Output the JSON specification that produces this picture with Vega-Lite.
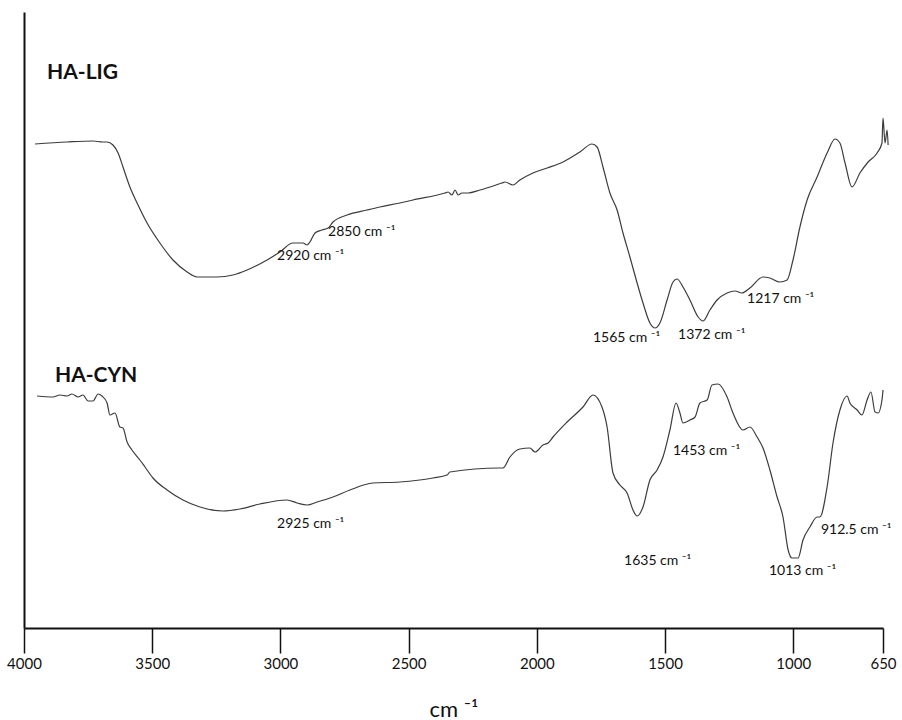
{
  "$schema": "https://vega.github.io/schema/vega-lite/v6.json",
  "width": 859,
  "height": 616,
  "autosize": {"type": "none"},
  "padding": {"left": 24, "top": 12, "right": 19, "bottom": 92},
  "background": "white",
  "config": {
    "view": {"stroke": null},
    "font": "Lato"
  },
  "datasets": {
    "curves": [
      {"series": "HA-LIG", "wn": 3957, "t": 484},
      {"series": "HA-LIG", "wn": 3832, "t": 486},
      {"series": "HA-LIG", "wn": 3731, "t": 487},
      {"series": "HA-LIG", "wn": 3692, "t": 486},
      {"series": "HA-LIG", "wn": 3676, "t": 486},
      {"series": "HA-LIG", "wn": 3653, "t": 483},
      {"series": "HA-LIG", "wn": 3633, "t": 475},
      {"series": "HA-LIG", "wn": 3614, "t": 461},
      {"series": "HA-LIG", "wn": 3587, "t": 441},
      {"series": "HA-LIG", "wn": 3559, "t": 425},
      {"series": "HA-LIG", "wn": 3520, "t": 405},
      {"series": "HA-LIG", "wn": 3470, "t": 385},
      {"series": "HA-LIG", "wn": 3419, "t": 368},
      {"series": "HA-LIG", "wn": 3364, "t": 356},
      {"series": "HA-LIG", "wn": 3325, "t": 351},
      {"series": "HA-LIG", "wn": 3247, "t": 351},
      {"series": "HA-LIG", "wn": 3185, "t": 353},
      {"series": "HA-LIG", "wn": 3130, "t": 358},
      {"series": "HA-LIG", "wn": 3052, "t": 368},
      {"series": "HA-LIG", "wn": 3002, "t": 376},
      {"series": "HA-LIG", "wn": 2951, "t": 385},
      {"series": "HA-LIG", "wn": 2912, "t": 385},
      {"series": "HA-LIG", "wn": 2896, "t": 383},
      {"series": "HA-LIG", "wn": 2885, "t": 386},
      {"series": "HA-LIG", "wn": 2865, "t": 395},
      {"series": "HA-LIG", "wn": 2838, "t": 398},
      {"series": "HA-LIG", "wn": 2814, "t": 400},
      {"series": "HA-LIG", "wn": 2795, "t": 406},
      {"series": "HA-LIG", "wn": 2740, "t": 413},
      {"series": "HA-LIG", "wn": 2662, "t": 418},
      {"series": "HA-LIG", "wn": 2612, "t": 421},
      {"series": "HA-LIG", "wn": 2534, "t": 425},
      {"series": "HA-LIG", "wn": 2483, "t": 428},
      {"series": "HA-LIG", "wn": 2358, "t": 435},
      {"series": "HA-LIG", "wn": 2346, "t": 436},
      {"series": "HA-LIG", "wn": 2331, "t": 433},
      {"series": "HA-LIG", "wn": 2319, "t": 438},
      {"series": "HA-LIG", "wn": 2307, "t": 433},
      {"series": "HA-LIG", "wn": 2292, "t": 435},
      {"series": "HA-LIG", "wn": 2268, "t": 435},
      {"series": "HA-LIG", "wn": 2222, "t": 438},
      {"series": "HA-LIG", "wn": 2136, "t": 445},
      {"series": "HA-LIG", "wn": 2124, "t": 446},
      {"series": "HA-LIG", "wn": 2093, "t": 443},
      {"series": "HA-LIG", "wn": 2066, "t": 448},
      {"series": "HA-LIG", "wn": 2015, "t": 455},
      {"series": "HA-LIG", "wn": 1960, "t": 460},
      {"series": "HA-LIG", "wn": 1898, "t": 466},
      {"series": "HA-LIG", "wn": 1832, "t": 476},
      {"series": "HA-LIG", "wn": 1785, "t": 484},
      {"series": "HA-LIG", "wn": 1765, "t": 481},
      {"series": "HA-LIG", "wn": 1742, "t": 461},
      {"series": "HA-LIG", "wn": 1715, "t": 435},
      {"series": "HA-LIG", "wn": 1687, "t": 418},
      {"series": "HA-LIG", "wn": 1664, "t": 395},
      {"series": "HA-LIG", "wn": 1637, "t": 371},
      {"series": "HA-LIG", "wn": 1609, "t": 345},
      {"series": "HA-LIG", "wn": 1586, "t": 325},
      {"series": "HA-LIG", "wn": 1559, "t": 305},
      {"series": "HA-LIG", "wn": 1539, "t": 300},
      {"series": "HA-LIG", "wn": 1520, "t": 305},
      {"series": "HA-LIG", "wn": 1492, "t": 328},
      {"series": "HA-LIG", "wn": 1469, "t": 346},
      {"series": "HA-LIG", "wn": 1453, "t": 349},
      {"series": "HA-LIG", "wn": 1430, "t": 341},
      {"series": "HA-LIG", "wn": 1403, "t": 328},
      {"series": "HA-LIG", "wn": 1371, "t": 311},
      {"series": "HA-LIG", "wn": 1352, "t": 307},
      {"series": "HA-LIG", "wn": 1325, "t": 318},
      {"series": "HA-LIG", "wn": 1297, "t": 328},
      {"series": "HA-LIG", "wn": 1258, "t": 335},
      {"series": "HA-LIG", "wn": 1227, "t": 337},
      {"series": "HA-LIG", "wn": 1200, "t": 335},
      {"series": "HA-LIG", "wn": 1169, "t": 340},
      {"series": "HA-LIG", "wn": 1118, "t": 351},
      {"series": "HA-LIG", "wn": 1091, "t": 350},
      {"series": "HA-LIG", "wn": 1052, "t": 346},
      {"series": "HA-LIG", "wn": 1024, "t": 348},
      {"series": "HA-LIG", "wn": 1001, "t": 368},
      {"series": "HA-LIG", "wn": 974, "t": 401},
      {"series": "HA-LIG", "wn": 946, "t": 428},
      {"series": "HA-LIG", "wn": 907, "t": 451},
      {"series": "HA-LIG", "wn": 868, "t": 475},
      {"series": "HA-LIG", "wn": 837, "t": 489},
      {"series": "HA-LIG", "wn": 818, "t": 485},
      {"series": "HA-LIG", "wn": 798, "t": 465},
      {"series": "HA-LIG", "wn": 771, "t": 441},
      {"series": "HA-LIG", "wn": 740, "t": 455},
      {"series": "HA-LIG", "wn": 708, "t": 466},
      {"series": "HA-LIG", "wn": 673, "t": 475},
      {"series": "HA-LIG", "wn": 654, "t": 485},
      {"series": "HA-LIG", "wn": 650, "t": 510},
      {"series": "HA-LIG", "wn": 642, "t": 485},
      {"series": "HA-LIG", "wn": 634, "t": 498},
      {"series": "HA-LIG", "wn": 630, "t": 483},
      {"series": "HA-CYN", "wn": 3949, "t": 232},
      {"series": "HA-CYN", "wn": 3887, "t": 231},
      {"series": "HA-CYN", "wn": 3860, "t": 233},
      {"series": "HA-CYN", "wn": 3832, "t": 232},
      {"series": "HA-CYN", "wn": 3813, "t": 234},
      {"series": "HA-CYN", "wn": 3789, "t": 231},
      {"series": "HA-CYN", "wn": 3770, "t": 233},
      {"series": "HA-CYN", "wn": 3750, "t": 227},
      {"series": "HA-CYN", "wn": 3731, "t": 227},
      {"series": "HA-CYN", "wn": 3711, "t": 234},
      {"series": "HA-CYN", "wn": 3696, "t": 232},
      {"series": "HA-CYN", "wn": 3676, "t": 225},
      {"series": "HA-CYN", "wn": 3665, "t": 213},
      {"series": "HA-CYN", "wn": 3645, "t": 215},
      {"series": "HA-CYN", "wn": 3626, "t": 201},
      {"series": "HA-CYN", "wn": 3614, "t": 200},
      {"series": "HA-CYN", "wn": 3598, "t": 186},
      {"series": "HA-CYN", "wn": 3579, "t": 178},
      {"series": "HA-CYN", "wn": 3548, "t": 168},
      {"series": "HA-CYN", "wn": 3528, "t": 161},
      {"series": "HA-CYN", "wn": 3497, "t": 150},
      {"series": "HA-CYN", "wn": 3442, "t": 138},
      {"series": "HA-CYN", "wn": 3380, "t": 128},
      {"series": "HA-CYN", "wn": 3314, "t": 121},
      {"series": "HA-CYN", "wn": 3224, "t": 117},
      {"series": "HA-CYN", "wn": 3158, "t": 119},
      {"series": "HA-CYN", "wn": 3080, "t": 124},
      {"series": "HA-CYN", "wn": 2974, "t": 128},
      {"series": "HA-CYN", "wn": 2935, "t": 125},
      {"series": "HA-CYN", "wn": 2896, "t": 123},
      {"series": "HA-CYN", "wn": 2857, "t": 126},
      {"series": "HA-CYN", "wn": 2795, "t": 131},
      {"series": "HA-CYN", "wn": 2729, "t": 138},
      {"series": "HA-CYN", "wn": 2639, "t": 145},
      {"series": "HA-CYN", "wn": 2534, "t": 146},
      {"series": "HA-CYN", "wn": 2405, "t": 150},
      {"series": "HA-CYN", "wn": 2350, "t": 153},
      {"series": "HA-CYN", "wn": 2339, "t": 156},
      {"series": "HA-CYN", "wn": 2144, "t": 160},
      {"series": "HA-CYN", "wn": 2132, "t": 160},
      {"series": "HA-CYN", "wn": 2105, "t": 171},
      {"series": "HA-CYN", "wn": 2066, "t": 179},
      {"series": "HA-CYN", "wn": 2027, "t": 180},
      {"series": "HA-CYN", "wn": 2007, "t": 176},
      {"series": "HA-CYN", "wn": 1976, "t": 183},
      {"series": "HA-CYN", "wn": 1956, "t": 185},
      {"series": "HA-CYN", "wn": 1937, "t": 191},
      {"series": "HA-CYN", "wn": 1882, "t": 206},
      {"series": "HA-CYN", "wn": 1820, "t": 221},
      {"series": "HA-CYN", "wn": 1781, "t": 233},
      {"series": "HA-CYN", "wn": 1746, "t": 221},
      {"series": "HA-CYN", "wn": 1726, "t": 201},
      {"series": "HA-CYN", "wn": 1703, "t": 155},
      {"series": "HA-CYN", "wn": 1676, "t": 143},
      {"series": "HA-CYN", "wn": 1648, "t": 135},
      {"series": "HA-CYN", "wn": 1625, "t": 118},
      {"series": "HA-CYN", "wn": 1609, "t": 112},
      {"series": "HA-CYN", "wn": 1586, "t": 121},
      {"series": "HA-CYN", "wn": 1559, "t": 148},
      {"series": "HA-CYN", "wn": 1531, "t": 158},
      {"series": "HA-CYN", "wn": 1508, "t": 171},
      {"series": "HA-CYN", "wn": 1481, "t": 198},
      {"series": "HA-CYN", "wn": 1457, "t": 225},
      {"series": "HA-CYN", "wn": 1442, "t": 215},
      {"series": "HA-CYN", "wn": 1430, "t": 205},
      {"series": "HA-CYN", "wn": 1403, "t": 208},
      {"series": "HA-CYN", "wn": 1383, "t": 211},
      {"series": "HA-CYN", "wn": 1364, "t": 225},
      {"series": "HA-CYN", "wn": 1336, "t": 228},
      {"series": "HA-CYN", "wn": 1317, "t": 243},
      {"series": "HA-CYN", "wn": 1293, "t": 244},
      {"series": "HA-CYN", "wn": 1258, "t": 231},
      {"series": "HA-CYN", "wn": 1235, "t": 215},
      {"series": "HA-CYN", "wn": 1196, "t": 198},
      {"series": "HA-CYN", "wn": 1169, "t": 201},
      {"series": "HA-CYN", "wn": 1141, "t": 191},
      {"series": "HA-CYN", "wn": 1118, "t": 180},
      {"series": "HA-CYN", "wn": 1091, "t": 158},
      {"series": "HA-CYN", "wn": 1063, "t": 131},
      {"series": "HA-CYN", "wn": 1040, "t": 111},
      {"series": "HA-CYN", "wn": 1020, "t": 78},
      {"series": "HA-CYN", "wn": 1005, "t": 70},
      {"series": "HA-CYN", "wn": 981, "t": 70},
      {"series": "HA-CYN", "wn": 962, "t": 88},
      {"series": "HA-CYN", "wn": 935, "t": 101},
      {"series": "HA-CYN", "wn": 907, "t": 111},
      {"series": "HA-CYN", "wn": 896, "t": 111},
      {"series": "HA-CYN", "wn": 868, "t": 141},
      {"series": "HA-CYN", "wn": 845, "t": 185},
      {"series": "HA-CYN", "wn": 818, "t": 218},
      {"series": "HA-CYN", "wn": 790, "t": 232},
      {"series": "HA-CYN", "wn": 779, "t": 225},
      {"series": "HA-CYN", "wn": 751, "t": 218},
      {"series": "HA-CYN", "wn": 732, "t": 213},
      {"series": "HA-CYN", "wn": 712, "t": 228},
      {"series": "HA-CYN", "wn": 697, "t": 236},
      {"series": "HA-CYN", "wn": 681, "t": 216},
      {"series": "HA-CYN", "wn": 669, "t": 215},
      {"series": "HA-CYN", "wn": 654, "t": 228},
      {"series": "HA-CYN", "wn": 650, "t": 238}
    ],
    "peaks": [
      {"wn": 3013, "t": 372, "label": "2920 cm ⁻¹"},
      {"wn": 2814, "t": 396, "label": "2850 cm ⁻¹"},
      {"wn": 1781, "t": 290, "label": "1565 cm ⁻¹"},
      {"wn": 1449, "t": 293, "label": "1372 cm ⁻¹"},
      {"wn": 1180, "t": 329, "label": "1217 cm ⁻¹"},
      {"wn": 3013, "t": 104, "label": "2925 cm ⁻¹"},
      {"wn": 1469, "t": 177, "label": "1453 cm ⁻¹"},
      {"wn": 1660, "t": 67, "label": "1635 cm ⁻¹"},
      {"wn": 1095, "t": 57, "label": "1013 cm ⁻¹"},
      {"wn": 892, "t": 98, "label": "912.5 cm ⁻¹"}
    ],
    "names": [
      {"wn": 3910, "t": 555, "label": "HA-LIG"},
      {"wn": 3879, "t": 252, "label": "HA-CYN"}
    ]
  },
  "layer": [
    {
      "data": {"name": "curves"},
      "mark": {"type": "line", "color": "#3c3c3c", "strokeWidth": 1.2, "clip": false, "interpolate": "monotone"},
      "encoding": {
        "x": {
          "field": "wn",
          "type": "quantitative",
          "scale": {"domain": [650, 4000], "reverse": true, "nice": false, "zero": false},
          "axis": {
            "values": [4000, 3500, 3000, 2500, 2000, 1500, 1000, 650],
            "format": "d",
            "title": "cm ⁻¹",
            "titleFont": "Lato",
            "titleFontSize": 22,
            "titleFontWeight": "normal",
            "titleColor": "#111111",
            "titlePadding": 28,
            "labelFont": "Lato",
            "labelFontSize": 15,
            "labelColor": "#111111",
            "labelPadding": 3,
            "labelFlush": false,
            "labelOverlap": false,
            "tickSize": 25,
            "tickColor": "#111111",
            "tickWidth": 1.5,
            "domainColor": "#111111",
            "domainWidth": 2,
            "grid": false
          }
        },
        "y": {
          "field": "t",
          "type": "quantitative",
          "scale": {"domain": [0, 616], "nice": false, "zero": false},
          "axis": {
            "title": null,
            "labels": false,
            "ticks": false,
            "grid": false,
            "domainColor": "#111111",
            "domainWidth": 2
          }
        },
        "detail": {"field": "series"}
      }
    },
    {
      "data": {"name": "peaks"},
      "mark": {"type": "text", "align": "left", "baseline": "middle", "font": "Lato", "fontSize": 14, "color": "#111111"},
      "encoding": {
        "x": {"field": "wn", "type": "quantitative"},
        "y": {"field": "t", "type": "quantitative"},
        "text": {"field": "label"}
      }
    },
    {
      "data": {"name": "names"},
      "mark": {"type": "text", "align": "left", "baseline": "middle", "font": "Lato", "fontSize": 21, "fontWeight": "bold", "color": "#111111"},
      "encoding": {
        "x": {"field": "wn", "type": "quantitative"},
        "y": {"field": "t", "type": "quantitative"},
        "text": {"field": "label"}
      }
    }
  ]
}
